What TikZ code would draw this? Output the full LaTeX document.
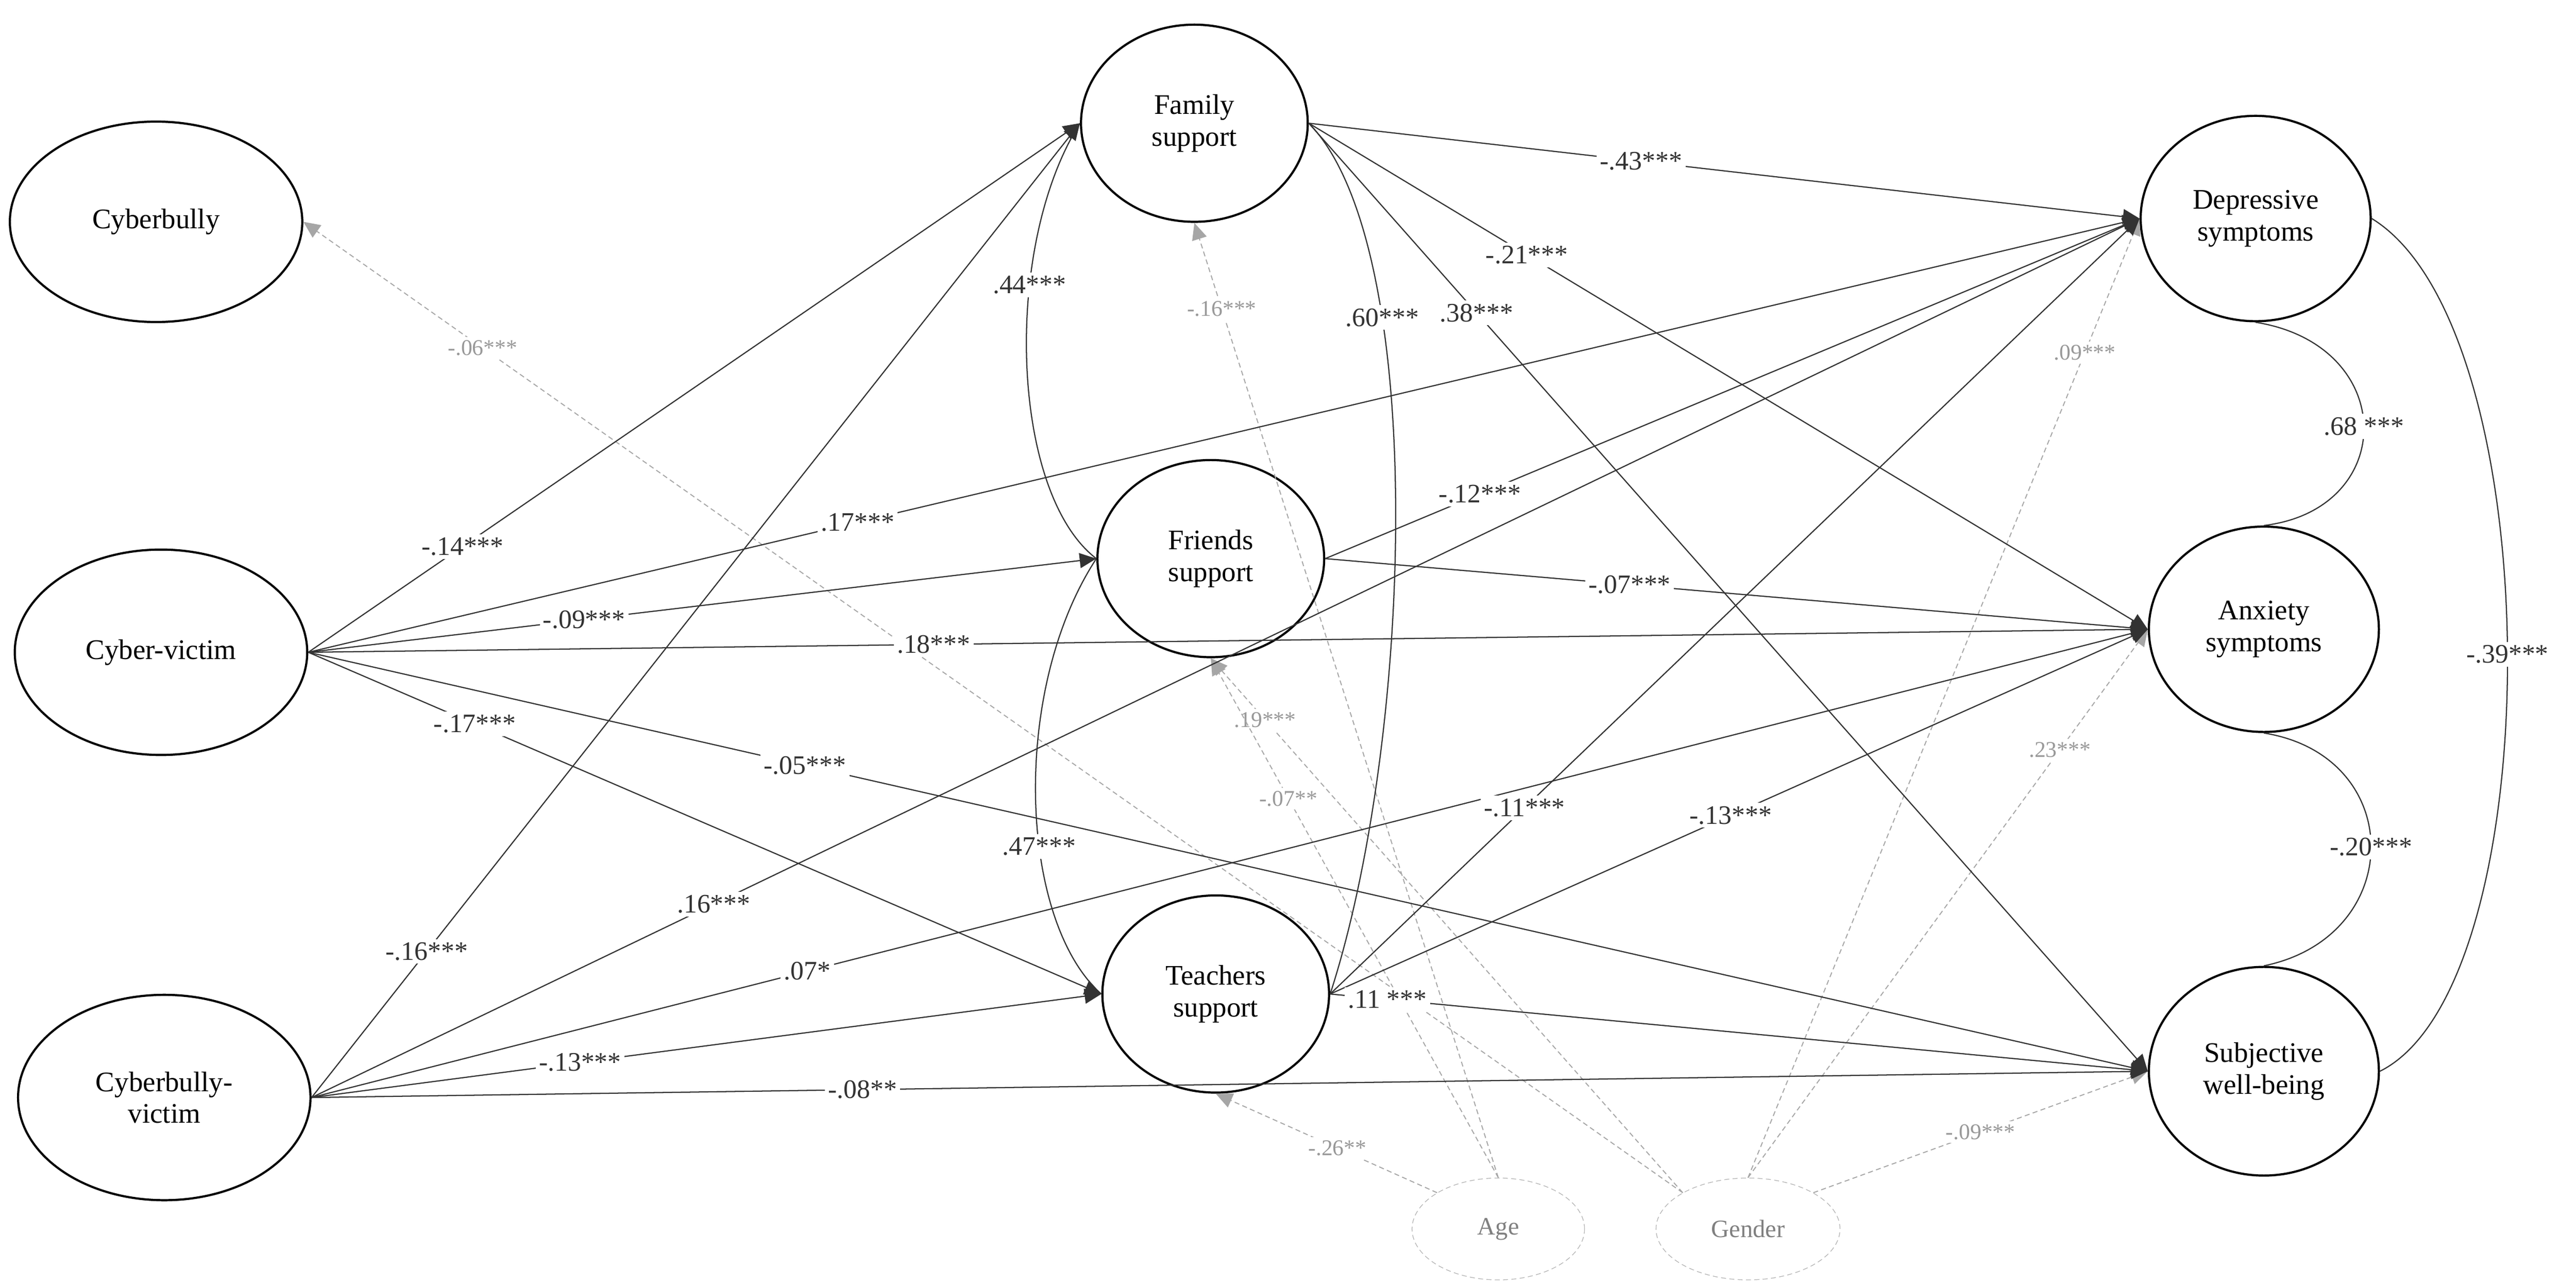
\documentclass[tikz,border=0pt]{standalone}
\usepackage{fontspec}
\setmainfont{Liberation Serif}
\usetikzlibrary{arrows.meta,shapes.geometric}
\begin{document}
\begin{tikzpicture}[x=0.03464cm,y=-0.03464cm,
  lat/.style={draw,ellipse,line width=1.3pt,minimum width=#1*0.03464cm,align=center,font=\fontsize{17}{19}\selectfont},
  lat/.default=140,
  cov/.style={draw,ellipse,densely dashed,gray!60,minimum width=105*0.03464cm,minimum height=62*0.03464cm,font=\fontsize{15}{17}\selectfont,text=gray},
  pth/.style={-{Triangle[length=10pt,width=9pt]},line width=0.7pt,black!80},
  gp/.style={-{Triangle[length=10pt,width=9pt]},densely dashed,gray!70,line width=0.6pt},
  cv/.style={line width=0.7pt,black!80},
  lb/.style={fill=white,inner sep=2pt,font=\fontsize{16}{18}\selectfont},
  gl/.style={fill=white,inner sep=2pt,font=\fontsize{13.5}{15}\selectfont,text=gray!80}]
\useasboundingbox (0,0) rectangle (1568,782);
% latent nodes
\node[lat=178,minimum height=122*0.03464cm] (cb) at (95,135) {Cyberbully};
\node[lat=178,minimum height=125*0.03464cm] (cvic) at (98,397) {Cyber-victim};
\node[lat=178,minimum height=125*0.03464cm] (cbv) at (100,668) {Cyberbully-\\victim};
\node[lat=138,minimum height=120*0.03464cm] (fam) at (727,75) {Family\\support};
\node[lat=138,minimum height=120*0.03464cm] (fri) at (737,340) {Friends\\support};
\node[lat=138,minimum height=120*0.03464cm] (tea) at (740,605) {Teachers\\support};
\node[lat=140,minimum height=125*0.03464cm] (dep) at (1373,133) {Depressive\\symptoms};
\node[lat=140,minimum height=125*0.03464cm] (anx) at (1378,383) {Anxiety\\symptoms};
\node[lat=140,minimum height=127*0.03464cm] (swb) at (1378,652) {Subjective\\well-being};
\node[cov] (age) at (912,748) {Age};
\node[cov,minimum width=112*0.03464cm] (gen) at (1064,748) {Gender};
% gray covariate paths
\draw[gp] (gen.north west) -- node[gl,pos=0.87] {-.06***} (cb.east);
\draw[gp] (age.north) -- node[gl,pos=0.91] {-.16***} (fam.south);
\draw[gp] (gen.north west) -- node[gl,pos=0.885] {.19***} (fri.south);
\draw[gp] (age.north) -- node[gl,pos=0.73] {-.07**} (fri.south);
\draw[gp] (age.north west) -- node[gl,pos=0.45] {-.26**} (tea.south);
\draw[gp] (gen.north) -- node[gl,pos=0.86] {.09***} (dep.west);
\draw[gp] (gen.north) -- node[gl,pos=0.78] {.23***} (anx.west);
\draw[gp] (gen.north east) -- node[gl,pos=0.5] {-.09***} (swb.west);
% cyber-victim
\draw[pth] (cvic.east) -- node[lb,pos=0.2] {-.14***} (fam.west);
\draw[pth] (cvic.east) -- node[lb,pos=0.3] {.17***} (dep.west);
\draw[pth] (cvic.east) -- node[lb,pos=0.35] {-.09***} (fri.west);
\draw[pth] (cvic.east) -- node[lb,pos=0.34] {.18***} (anx.west);
\draw[pth] (cvic.east) -- node[lb,pos=0.21] {-.17***} (tea.west);
\draw[pth] (cvic.east) -- node[lb,pos=0.27] {-.05***} (swb.west);
% cyberbully-victim
\draw[pth] (cbv.east) -- node[lb,pos=0.15] {-.16***} (fam.west);
\draw[pth] (cbv.east) -- node[lb,pos=0.22] {.16***} (dep.west);
\draw[pth] (cbv.east) -- node[lb,pos=0.27] {.07*} (anx.west);
\draw[pth] (cbv.east) -- node[lb,pos=0.34] {-.13***} (tea.west);
\draw[pth] (cbv.east) -- node[lb,pos=0.3] {-.08**} (swb.west);
% family
\draw[pth] (fam.east) -- node[lb,pos=0.4] {-.43***} (dep.west);
\draw[pth] (fam.east) -- node[lb,pos=0.26] {-.21***} (anx.west);
\draw[pth] (fam.east) -- node[lb,pos=0.2] {.38***} (swb.west);
% friends
\draw[pth] (fri.east) -- node[lb,pos=0.19] {-.12***} (dep.west);
\draw[pth] (fri.east) -- node[lb,pos=0.37] {-.07***} (anx.west);
% teachers
\draw[pth] (tea.east) -- node[lb,pos=0.24] {-.11***} (dep.west);
\draw[pth] (tea.east) -- node[lb,pos=0.49] {-.13***} (anx.west);
\draw[pth] (tea.east) -- node[lb,pos=0.07] {.11 ***} (swb.west);
% covariances
\draw[cv] (fam.west) .. controls (610,150) and (615,300) .. node[lb,pos=0.35] {.44***} (fri.west);
\draw[cv] (fam.east) .. controls (870,150) and (860,450) .. node[lb,pos=0.3] {.60***} (tea.east);
\draw[cv] (fri.west) .. controls (615,420) and (620,560) .. node[lb,pos=0.6] {.47***} (tea.west);
\draw[cv] (dep.south) .. controls (1460,210) and (1460,310) .. node[lb,pos=0.5] {.68 ***} (anx.north);
\draw[cv] (anx.south) .. controls (1465,460) and (1465,570) .. node[lb,pos=0.5] {-.20***} (swb.north);
\draw[cv] (dep.east) .. controls (1553,200) and (1553,600) .. node[lb,pos=0.5] {-.39***} (swb.east);
\end{tikzpicture}
\end{document}
